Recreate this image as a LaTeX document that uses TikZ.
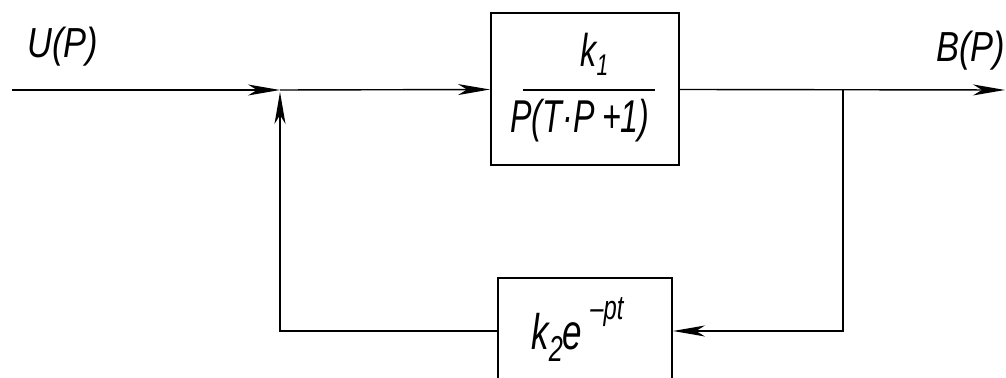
\documentclass[tikz,border=0pt]{standalone}
\usepackage{fontspec}
\setmainfont{Liberation Sans}[FakeStretch=0.82]
\newfontfamily\narrowfont{Liberation Sans}[FakeStretch=0.7]
\usetikzlibrary{arrows.meta}
\tikzset{
  x=0.5pt, y=-0.5pt,
  wire/.style={line width=0.7pt},
  tip/.style={-{Stealth[length=16pt,width=5.5pt,inset=4.5pt]}},
  blockbox/.style={draw, line width=1pt, inner sep=0pt},
  lbl/.style={font=\itshape\fontsize{21}{24}\selectfont, inner sep=0pt, anchor=base west},
  numlbl/.style={font=\narrowfont\itshape\fontsize{23}{26}\selectfont, inner sep=0pt, anchor=base west},
  denlbl/.style={font=\narrowfont\itshape\fontsize{23}{26}\selectfont, inner sep=0pt, anchor=base west},
  explbl/.style={font=\narrowfont\itshape\fontsize{25}{28}\selectfont, inner sep=0pt, anchor=base west},
}
\begin{document}
\begin{tikzpicture}
\useasboundingbox (0,0) rectangle (1006,378);
\clip (0,0) rectangle (1006,378);
% coordinates
\coordinate (in) at (12,90);
\coordinate (sum) at (280,90);
\coordinate (branch) at (843,90);
\coordinate (out) at (1005,90);
\coordinate (fbr) at (843,331);
\coordinate (fbl) at (280,331);
% blocks
\node[blockbox, minimum width=94pt, minimum height=76pt] (G1) at (585,89.5) {};
\node[blockbox, minimum width=87pt, minimum height=60pt] (G2) at (585,338) {};
% fraction in G1
\node[numlbl] (num) at (580,67) {k\raisebox{-0.35ex}{\fontsize{15}{16}\selectfont 1}};
\node[denlbl] (den) at (510,133) {P(T·P\,+1)};
\coordinate (fl) at (523,90);
\coordinate (fr) at (655,90);
\draw[line width=0.7pt] (fl) -- (fr);
% text in G2
\node[explbl] (g2txt) at (531,350) {k\raisebox{-0.45ex}{\fontsize{18}{19}\selectfont 2}e\hspace{4pt}\raisebox{1.15ex}{\fontsize{17}{18}\selectfont –pt}};
% labels
\node[lbl] (U) at (27,58) {U(P)};
\node[lbl] (B) at (936,62) {B(P)};
% connectors
\draw[wire, tip] (in) -- (sum);
\draw[wire, tip] (sum) -- (G1.west);
\draw[wire, tip] (G1.east) -- (out);
\draw[wire, tip] (branch) -- (fbr) -- (G2.east |- fbr);
\draw[wire, tip] (G2.west |- fbl) -- (fbl) -- ([yshift=-1pt]sum);
\end{tikzpicture}
\end{document}
